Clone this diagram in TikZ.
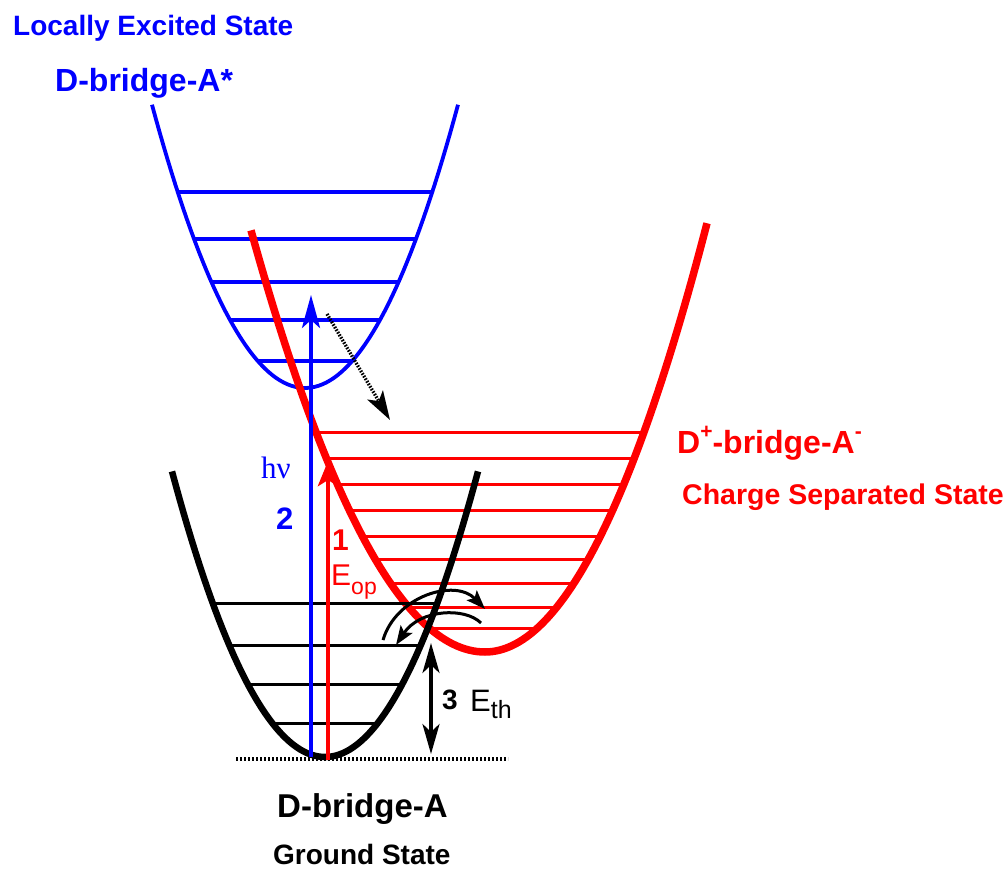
\documentclass[tikz,border=0pt]{standalone}
\usepackage{fontspec}
\setmainfont{Liberation Sans}
\newfontfamily\nufont{Liberation Serif}
\usepackage{tikz}
\usetikzlibrary{arrows.meta}
\definecolor{ExcitedBlue}{HTML}{0000FF}
\definecolor{ChargeRed}{HTML}{FF0000}
\newcommand\txtsize[1]{\fontsize{#1}{#1}\selectfont}
\tikzset{
  excitedwell/.style={draw=ExcitedBlue,line width=3.8pt},
  excitedlevel/.style={draw=ExcitedBlue,line width=3.1pt},
  chargewell/.style={draw=ChargeRed,line width=7.5pt},
  chargelevel/.style={draw=ChargeRed,line width=3pt},
  groundwell/.style={draw=black,line width=6.5pt},
  groundlevel/.style={draw=black,line width=3pt},
  pumparrow/.style={-{Stealth[length=33pt,width=18pt,inset=8pt]},draw=ExcitedBlue,line width=3.6pt},
  optarrow/.style={-{Stealth[length=25pt,width=20pt,inset=6pt]},draw=ChargeRed,line width=4.6pt},
  thermarrow/.style={{Stealth[length=30pt,width=17pt,inset=8pt]}-{Stealth[length=30pt,width=17pt,inset=8pt]},line width=3.4pt},
  hoparrow/.style={-{Stealth[length=19pt,width=14pt,inset=4pt]},line width=3pt},
  transferarrow/.style={-{Stealth[length=29pt,width=18pt,inset=7pt]},line width=3.4pt,dash pattern=on 1.6pt off 1.4pt},
  baseline/.style={line width=3.4pt,dash pattern=on 2pt off 2pt},
  statename/.style={anchor=base west,inner sep=0pt,font=\bfseries\txtsize{32}},
  statetag/.style={anchor=base west,inner sep=0pt,font=\bfseries\txtsize{28}},
  marker/.style={anchor=base west,inner sep=0pt}
}

\begin{document}
\begin{tikzpicture}[x=1pt,y=-1pt]
  \useasboundingbox (0,0) rectangle (1005,869);

  % locally excited well, vertex (305,388)
  \foreach \ly in {192,239,282,320,361} {
    \pgfmathsetmacro\dx{10*sqrt((388-\ly)/1.21)}
    \draw[excitedlevel] ({305-\dx},\ly) -- ({305+\dx},\ly);
  }
  \draw[excitedwell] plot[domain=152:458,samples=80] (\x,{388-1.21*((\x-305)/10)^2});

  % charge separated well, vertex (485,652)
  \foreach \ly in {432,458,484,510,536,559,583,607,628} {
    \pgfmathsetmacro\dxl{10*sqrt((652-\ly)/0.77)}
    \pgfmathsetmacro\dxr{10*sqrt((652-\ly)/0.87)}
    \draw[chargelevel] ({485-\dxl},\ly) -- ({485+\dxr},\ly);
  }
  \draw[chargewell] plot[domain=251:485,samples=60] (\x,{652-0.77*((\x-485)/10)^2})
    -- plot[domain=485:707,samples=60] (\x,{652-0.87*((\x-485)/10)^2});

  % ground state well, vertex (325,757)
  \foreach \ly in {603,645,684,723} {
    \pgfmathsetmacro\dx{10*sqrt((757-\ly)/1.22)}
    \draw[groundlevel] ({325-\dx},\ly) -- ({325+\dx},\ly);
  }
  \draw[groundwell] plot[domain=172:478,samples=80] (\x,{757-1.22*((\x-325)/10)^2});

  \coordinate (floorleft) at (236,759);
  \coordinate (floorright) at (508,759);
  \draw[baseline] (floorleft) -- (floorright);

  % transitions
  \coordinate (pumpfoot) at (311,757);
  \coordinate (pumptip) at (311,295);
  \coordinate (optfoot) at (328,760);
  \coordinate (opttip) at (328,461);
  \coordinate (thermlow) at (431,754);
  \coordinate (thermhigh) at (431,643);
  \coordinate (transferfrom) at (327,314);
  \coordinate (transferto) at (390,420);
  \coordinate (hopoutfrom) at (383,640);
  \coordinate (hopoutto) at (485,609);
  \coordinate (hopinfrom) at (481,623);
  \coordinate (hopinto) at (396,645);

  \draw[pumparrow] (pumpfoot) -- (pumptip);
  \draw[optarrow] (optfoot) -- (opttip);
  \draw[thermarrow] (thermlow) -- (thermhigh);
  \draw[transferarrow] (transferfrom) -- (transferto);
  \draw[hoparrow] (hopoutfrom) .. controls (396,596) and (455,578) .. (hopoutto);
  \draw[hoparrow] (hopinfrom) .. controls (465,607) and (420,609) .. (hopinto);

  % labels
  \node[statetag,text=ExcitedBlue] (letag) at (13,36) {Locally Excited State};
  \node[statename,text=ExcitedBlue] (lename) at (55,92) {D-bridge-A*};
  \node[statename,text=ChargeRed] (csname) at (677,453)
    {D\raisebox{15pt}{\txtsize{21}+}-bridge-A\raisebox{15pt}{\txtsize{21}-}};
  \node[statetag,text=ChargeRed,font=\bfseries\txtsize{28.5}] (cstag) at (682,504)
    {Charge Separated State};
  \node[statename,font=\bfseries\txtsize{33}] (gsname) at (277,817) {D-bridge-A};
  \node[statetag] (gstag) at (273,864) {Ground State};

  \node[marker,text=ExcitedBlue,font=\nufont\txtsize{31}] (hnu) at (261,478) {hν};
  \node[marker,text=ExcitedBlue,font=\bfseries\txtsize{31}] (two) at (276,529) {2};
  \node[marker,text=ChargeRed,font=\bfseries\txtsize{30}] (one) at (332,550) {1};
  \node[marker,text=ChargeRed,font=\txtsize{30}] (eop) at (331,585)
    {E\raisebox{-9pt}{\txtsize{23}op}};
  \node[marker,font=\bfseries\txtsize{28}] (three) at (442,709) {3};
  \node[marker,font=\txtsize{31}] (eth) at (470,711)
    {E\raisebox{-7pt}{\txtsize{25}th}};
\end{tikzpicture}
\end{document}
